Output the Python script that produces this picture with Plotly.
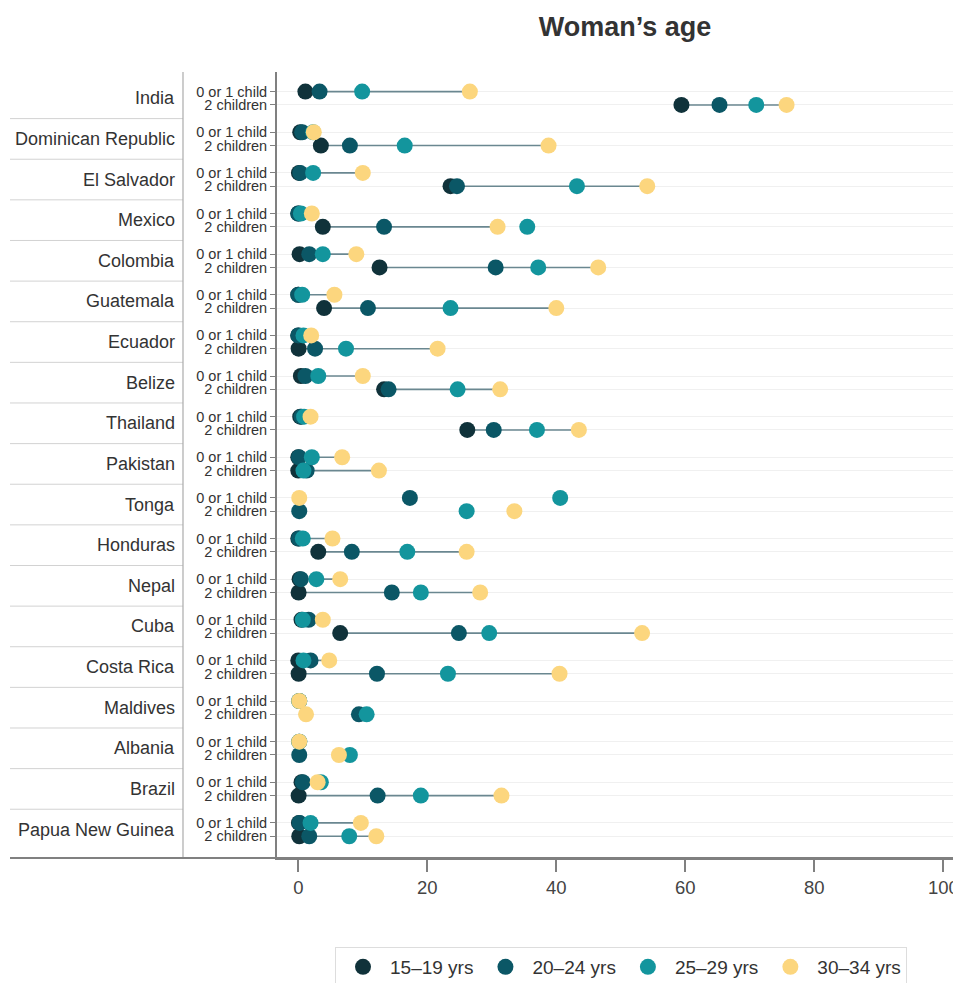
import plotly.graph_objects as go

# ---- data -----------------------------------------------------------------
countries = ["India", "Dominican Republic", "El Salvador", "Mexico", "Colombia",
             "Guatemala", "Ecuador", "Belize", "Thailand", "Pakistan", "Tonga",
             "Honduras", "Nepal", "Cuba", "Costa Rica", "Maldives", "Albania",
             "Brazil", "Papua New Guinea"]
parity_labels = ["0 or 1 child", "2 children"]
age_groups = ["15–19 yrs", "20–24 yrs", "25–29 yrs", "30–34 yrs"]
age_colors = ["#10323a", "#0b5766", "#13959d", "#fcd67e"]

# women with 0 or 1 child, by age group (%)
low_15_19 = [1.1, 0.3, 0.1, 0.0, 0.2, 0.0, 0.0, 0.4, 0.3, 0.0, None, 0.0, 0.2, 0.5,
             0.0, None, None, 0.5, 0.1]
low_20_24 = [3.3, 0.6, 0.3, 0.0, 1.7, 0.0, 0.0, 1.1, 0.5, 0.1, 17.3, 0.1, 0.4, 1.6,
             1.9, 0.15, 0.15, 0.7, 0.2]
low_25_29 = [9.9, 2.3, 2.3, 0.4, 3.8, 0.6, 0.8, 3.1, 0.9, 2.1, 40.6, 0.7, 2.8, 0.7,
             0.8, 0.15, 0.15, 3.5, 1.9]
low_30_34 = [26.6, 2.4, 10.0, 2.1, 9.0, 5.6, 2.0, 10.0, 1.9, 6.8, 0.15, 5.3, 6.5, 3.8,
             4.8, 0.15, 0.15, 3.0, 9.7]

# women with 2 children, by age group (%)
two_15_19 = [59.4, 3.5, 23.6, 3.8, 12.6, 4.0, 0.05, 13.3, 26.2, 0.0, None, 3.1, 0.05,
             6.5, 0.05, None, None, 0.05, 0.15]
two_20_24 = [65.3, 8.0, 24.6, 13.3, 30.6, 10.8, 2.6, 14.0, 30.3, 1.3, 0.15, 8.3, 14.5,
             24.9, 12.2, 9.4, 0.15, 12.3, 1.7]
two_25_29 = [71.0, 16.5, 43.2, 35.5, 37.2, 23.6, 7.4, 24.7, 37.0, 0.8, 26.1, 16.9, 19.0,
             29.6, 23.2, 10.6, 8.0, 19.0, 7.9]
two_30_34 = [75.7, 38.8, 54.1, 30.9, 46.5, 40.0, 21.6, 31.3, 43.5, 12.5, 33.5, 26.1,
             28.2, 53.3, 40.5, 1.2, 6.3, 31.5, 12.1]

x_ticks = [0, 20, 40, 60, 80, 100]

# ---- layout geometry (pixels) ---------------------------------------------
W, H = 953, 983
L, R, T, B = 277, 953, 72, 858
Y_TOP, Y_BOT = -0.647, 18.70      # reversed category axis range
X_MIN, X_MAX = -3.30, 101.5
ROW_OFF = 0.164                   # offset of the two parity rows inside a group


def xp(px):
    return (px - L) / (R - L)


def yp_data(v):
    return (Y_BOT - v) / (Y_BOT - Y_TOP)


n = len(countries)
low_pos = [i - ROW_OFF for i in range(n)]
two_pos = [i + ROW_OFF for i in range(n)]

series = [
    (low_15_19, two_15_19),
    (low_20_24, two_20_24),
    (low_25_29, two_25_29),
    (low_30_34, two_30_34),
]

fig = go.Figure()

# connector from the youngest to the oldest age group on each row
seg_x, seg_y = [], []
for pos, first, last in ((low_pos, low_15_19, low_30_34), (two_pos, two_15_19, two_30_34)):
    for p, a, b in zip(pos, first, last):
        if a is None or b is None:
            continue
        seg_x += [a, b, None]
        seg_y += [p, p, None]
fig.add_trace(go.Scatter(x=seg_x, y=seg_y, mode="lines",
                         line=dict(color="#6a8790", width=1.6),
                         showlegend=False, hoverinfo="skip"))

for name, color, (low_vals, two_vals) in zip(age_groups, age_colors, series):
    xs, ys = [], []
    for p, v in zip(low_pos, low_vals):
        if v is not None:
            xs.append(v)
            ys.append(p)
    for p, v in zip(two_pos, two_vals):
        if v is not None:
            xs.append(v)
            ys.append(p)
    fig.add_trace(go.Scatter(x=xs, y=ys, mode="markers", name=name,
                             marker=dict(size=16, color=color, line=dict(width=0))))

# country names in the left column
annotations = []
for i, c in enumerate(countries):
    annotations.append(dict(text=c, xref="paper", yref="y", x=xp(177), y=i,
                            xanchor="right", yanchor="middle", showarrow=False,
                            font=dict(size=18, color="#333333",
                                      family="Liberation Sans, Arial, sans-serif")))

shapes = []
# separators between countries in the label column
for i in range(n - 1):
    yy = yp_data(i + 0.5)
    shapes.append(dict(type="line", xref="paper", yref="paper", x0=xp(10), x1=xp(183),
                       y0=yy, y1=yy, line=dict(color="#d2d2d2", width=1)))
# vertical divider between country names and parity labels
shapes.append(dict(type="line", xref="paper", yref="paper", x0=xp(183), x1=xp(183),
                   y0=0, y1=1, line=dict(color="#ababab", width=1.2)))
# baseline running under both label columns
shapes.append(dict(type="line", xref="paper", yref="paper", x0=xp(10), x1=1,
                   y0=0, y1=0, line=dict(color="#808080", width=1.8)))

tick_vals, tick_text = [], []
for i in range(n):
    tick_vals += [low_pos[i], two_pos[i]]
    tick_text += parity_labels

fig.update_layout(
    width=W, height=H, autosize=False,
    margin=dict(l=L, r=W - R, t=T, b=H - B, pad=0),
    paper_bgcolor="white", plot_bgcolor="white",
    font=dict(family="Liberation Sans, Arial, sans-serif", color="#333333"),
    title=dict(text="<b>Woman’s age</b>", x=625 / W, xref="container", xanchor="center",
               y=1 - 27 / H, yref="container", yanchor="middle",
               font=dict(size=27, color="#333333")),
    xaxis=dict(range=[X_MIN, X_MAX], tickvals=x_ticks, ticks="outside", ticklen=12,
               tickwidth=1.5, tickcolor="#808080", showgrid=False, zeroline=False,
               showline=True, linecolor="#808080", linewidth=1.8,
               ticklabeloverflow="allow", automargin=False,
               tickfont=dict(size=18.5, color="#444444")),
    yaxis=dict(range=[Y_BOT, Y_TOP], tickvals=tick_vals, ticktext=tick_text,
               ticks="outside", ticklen=5, tickcolor="#808080", tickwidth=1,
               showgrid=True, gridcolor="#f0f0f0", gridwidth=1, zeroline=False,
               showline=True, linecolor="#808080", linewidth=1.8, automargin=False,
               tickfont=dict(size=14.5, color="#333333")),
    legend=dict(orientation="h", xref="container", yref="container",
                x=621 / W, xanchor="center", y=1 - 947 / H, yanchor="top",
                itemwidth=44,
                bordercolor="#dddddd", borderwidth=1, bgcolor="white",
                font=dict(size=19, color="#333333")),
    annotations=annotations,
    shapes=shapes,
    showlegend=True,
)

fig.write_html("out.html")
